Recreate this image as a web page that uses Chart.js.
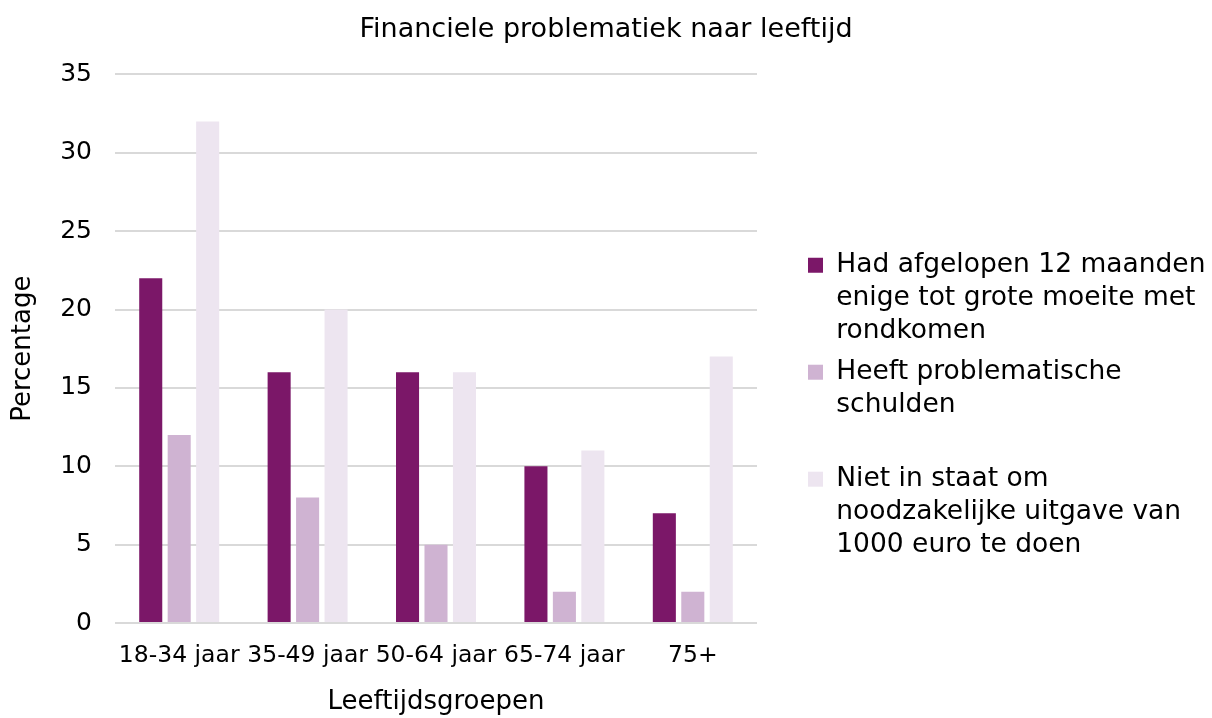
<!DOCTYPE html>
<html>
<head>
<meta charset="utf-8">
<script src="https://cdn.jsdelivr.net/npm/chart.js@4/dist/chart.umd.min.js"></script>
<style>
  html, body { margin: 0; padding: 0; background: #ffffff; }
  #wrap { width: 1212px; height: 718px; }
</style>
</head>
<body>
<div id="wrap"><canvas id="c" width="1212" height="718"></canvas></div>
<script>
const categories = ["18-34 jaar", "35-49 jaar", "50-64 jaar", "65-74 jaar", "75+"];
const seriesNames = [
  ["Had afgelopen 12 maanden", "enige tot grote moeite met", "rondkomen"],
  ["Heeft problematische", "schulden", ""],
  ["Niet in staat om", "noodzakelijke uitgave van", "1000 euro te doen"]
];
const moeiteRondkomen = [22, 16, 16, 10, 7];
const problematischeSchulden = [12, 8, 5, 2, 2];
const nietInStaat = [32, 20, 16, 11, 17];
const seriesColors = ["#7B1768", "#CFB3D2", "#EDE5F0"];
const yTicks = [0, 5, 10, 15, 20, 25, 30, 35];

const FONT = "'DejaVu Sans', Verdana, sans-serif";

const legendPlace = {
  id: 'legendPlace',
  afterInit(chart) {
    const lg = chart.legend;
    const origFit = lg.fit;
    lg.fit = function () {
      origFit.call(this);
      this.width = 455;
    };
  },
  afterLayout(chart) {
    const lg = chart.legend;
    lg.left = 800;
    lg.top = 244;
  }
};

new Chart(document.getElementById('c'), {
  type: 'bar',
  data: {
    labels: categories,
    datasets: [
      { label: seriesNames[0], data: moeiteRondkomen, backgroundColor: seriesColors[0] },
      { label: seriesNames[1], data: problematischeSchulden, backgroundColor: seriesColors[1] },
      { label: seriesNames[2], data: nietInStaat, backgroundColor: seriesColors[2] }
    ]
  },
  options: {
    responsive: false,
    animation: false,
    devicePixelRatio: 1,
    layout: { padding: 0 },
    datasets: { bar: { categoryPercentage: 0.665, barPercentage: 0.81, borderWidth: 0 } },
    plugins: {
      title: {
        display: true,
        text: "Financiele problematiek naar leeftijd",
        color: '#000',
        font: { family: FONT, size: 27, weight: 'normal', lineHeight: 1.2 },
        padding: { top: 14, bottom: 28 },
        align: 'center'
      },
      legend: {
        display: true,
        position: 'right',
        align: 'start',
        labels: {
          color: '#000',
          font: { family: FONT, size: 26.5, lineHeight: 1.245 },
          boxWidth: 15,
          boxHeight: 15,
          padding: 8
        }
      },
      tooltip: { enabled: false }
    },
    scales: {
      x: {
        grid: { display: false, drawTicks: false },
        border: { display: false },
        ticks: {
          color: '#000',
          font: { family: FONT, size: 23.5 },
          padding: 19,
          maxRotation: 0,
          minRotation: 0,
          autoSkip: false
        },
        title: {
          display: true,
          text: "Leeftijdsgroepen",
          color: '#000',
          font: { family: FONT, size: 26 },
          padding: { top: 0, bottom: 0 }
        },
        afterFit(scale) { scale.height = 95; }
      },
      y: {
        min: 0,
        max: 35,
        afterBuildTicks(scale) { scale.ticks = yTicks.map(v => ({ value: v })); },
        grid: { color: '#D9D9D9', lineWidth: 2, drawTicks: false },
        border: { display: false },
        ticks: {
          color: '#000',
          font: { family: FONT, size: 25 },
          padding: 23
        },
        title: {
          display: true,
          text: "Percentage",
          color: '#000',
          font: { family: FONT, size: 26 },
          padding: 8
        },
        afterFit(scale) { scale.width = 115; }
      }
    }
  },
  plugins: [legendPlace]
});
</script>
</body>
</html>
